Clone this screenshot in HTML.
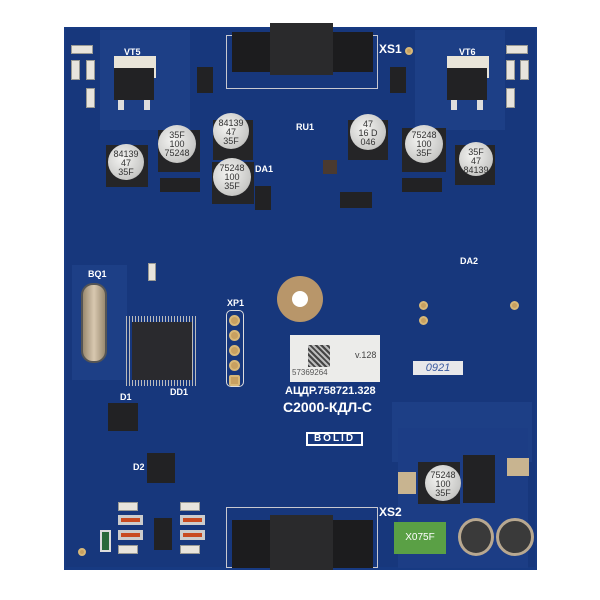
<!DOCTYPE html>
<html><head><meta charset="utf-8"><style>
body{margin:0;width:600px;height:600px;background:#fff;position:relative;overflow:hidden;font-family:"Liberation Sans",sans-serif}
div{position:absolute;box-sizing:border-box}
.b{background:#222224}
.cap{border-radius:50%;background:radial-gradient(circle at 40% 40%,#f4f4f2,#c8c8c6 70%,#8a8a8a);color:#333;font-size:9px;line-height:9px;text-align:center;padding-top:6px}
.capb{background:#252527}
.r{background:#e8e4dc;border:1px solid #9a9a94}
.t{color:#fff;font-weight:bold;font-size:9px}
.pad{border-radius:50%;background:#c8a060;border:2px solid #d8b878}
.mesh{background:#1d3f86}
</style></head><body>
<!-- board -->
<div style="left:64px;top:27px;width:473px;height:543px;background:#173a82"></div>
<div style="left:66px;top:29px;width:469px;height:538px;background:#17377c"></div>
<!-- mesh areas -->
<div class="mesh" style="left:100px;top:30px;width:90px;height:100px"></div>
<div class="mesh" style="left:415px;top:30px;width:90px;height:100px"></div>
<div class="mesh" style="left:72px;top:265px;width:55px;height:115px"></div>
<div class="mesh" style="left:392px;top:402px;width:140px;height:60px"></div>
<div style="left:398px;top:428px;width:130px;height:140px;background:#1c3d85"></div>
<!-- XS1 -->
<div style="left:226px;top:35px;width:152px;height:54px;border:1px solid #c8c8d0"></div>
<div class="b" style="left:232px;top:32px;width:141px;height:40px;background:#1c1c1e"></div>
<div class="b" style="left:270px;top:23px;width:63px;height:52px;background:#2a2a2c"></div>
<div class="t" style="left:379px;top:42px;font-size:12px">XS1</div>
<div class="pad" style="left:405px;top:47px;width:8px;height:8px"></div>
<!-- VT5/VT6 -->
<div class="t" style="left:124px;top:47px">VT5</div>
<div style="left:114px;top:56px;width:42px;height:22px;background:#e8e4d8"></div>
<div class="b" style="left:114px;top:68px;width:40px;height:32px"></div>
<div style="left:118px;top:100px;width:6px;height:10px;background:#ddd"></div>
<div style="left:144px;top:100px;width:6px;height:10px;background:#ddd"></div>
<div class="t" style="left:459px;top:47px">VT6</div>
<div style="left:447px;top:56px;width:42px;height:22px;background:#e8e4d8"></div>
<div class="b" style="left:447px;top:68px;width:40px;height:32px"></div>
<div style="left:451px;top:100px;width:6px;height:10px;background:#ddd"></div>
<div style="left:477px;top:100px;width:6px;height:10px;background:#ddd"></div>
<!-- small resistors top -->
<div class="r" style="left:71px;top:45px;width:22px;height:9px"></div>
<div class="r" style="left:71px;top:60px;width:9px;height:20px"></div>
<div class="r" style="left:86px;top:60px;width:9px;height:20px"></div>
<div class="r" style="left:86px;top:88px;width:9px;height:20px"></div>
<div class="r" style="left:506px;top:45px;width:22px;height:9px"></div>
<div class="r" style="left:506px;top:60px;width:9px;height:20px"></div>
<div class="r" style="left:520px;top:60px;width:9px;height:20px"></div>
<div class="r" style="left:506px;top:88px;width:9px;height:20px"></div>
<div class="b" style="left:197px;top:67px;width:16px;height:26px"></div>
<div class="b" style="left:390px;top:67px;width:16px;height:26px"></div>
<div class="t" style="left:296px;top:122px">RU1</div>
<!-- caps -->
<div class="capb" style="left:106px;top:145px;width:42px;height:42px"></div>
<div class="cap" style="left:108px;top:144px;width:36px;height:36px">84139<br>47<br>35F</div>
<div class="capb" style="left:158px;top:130px;width:42px;height:42px"></div>
<div class="cap" style="left:158px;top:125px;width:38px;height:38px">35F<br>100<br>75248</div>
<div class="capb" style="left:213px;top:120px;width:40px;height:40px"></div>
<div class="cap" style="left:213px;top:113px;width:36px;height:36px">84139<br>47<br>35F</div>
<div class="capb" style="left:212px;top:162px;width:42px;height:42px"></div>
<div class="cap" style="left:213px;top:158px;width:38px;height:38px">75248<br>100<br>35F</div>
<div class="capb" style="left:348px;top:120px;width:40px;height:40px"></div>
<div class="cap" style="left:350px;top:114px;width:36px;height:36px">47<br>16 D<br>046</div>
<div class="capb" style="left:402px;top:128px;width:44px;height:44px"></div>
<div class="cap" style="left:405px;top:125px;width:38px;height:38px">75248<br>100<br>35F</div>
<div class="capb" style="left:455px;top:145px;width:40px;height:40px"></div>
<div class="cap" style="left:459px;top:142px;width:34px;height:34px">35F<br>47<br>84139</div>
<div class="b" style="left:160px;top:178px;width:40px;height:14px"></div>
<div class="b" style="left:402px;top:178px;width:40px;height:14px"></div>
<div class="b" style="left:255px;top:186px;width:16px;height:24px"></div>
<div class="t" style="left:255px;top:164px">DA1</div>
<div class="b" style="left:340px;top:192px;width:32px;height:16px"></div>
<div class="b" style="left:323px;top:160px;width:14px;height:14px;background:#4a3a30"></div>
<!-- BQ1 -->
<div class="t" style="left:88px;top:269px">BQ1</div>
<div style="left:81px;top:283px;width:26px;height:80px;border-radius:12px;background:linear-gradient(90deg,#9a8a70,#d8c8b0,#9a8a70);border:2px solid #555"></div>
<div class="r" style="left:148px;top:263px;width:8px;height:18px"></div>
<!-- MCU -->
<div style="left:126px;top:316px;width:72px;height:70px;background:repeating-linear-gradient(90deg,#bbb 0 1px,transparent 1px 3px)"></div>
<div class="b" style="left:132px;top:322px;width:60px;height:58px;background:#2a2a2e"></div>
<div class="t" style="left:170px;top:387px">DD1</div>
<div class="t" style="left:120px;top:392px">D1</div>
<div class="b" style="left:108px;top:403px;width:30px;height:28px"></div>
<div class="t" style="left:133px;top:462px">D2</div>
<div class="b" style="left:147px;top:453px;width:28px;height:30px"></div>
<!-- XP1 -->
<div class="t" style="left:227px;top:298px">XP1</div>
<div style="left:226px;top:310px;width:18px;height:77px;border:1.5px solid #ddd;border-radius:5px"></div>
<div class="pad" style="left:229px;top:315px;width:11px;height:11px"></div>
<div class="pad" style="left:229px;top:330px;width:11px;height:11px"></div>
<div class="pad" style="left:229px;top:345px;width:11px;height:11px"></div>
<div class="pad" style="left:229px;top:360px;width:11px;height:11px"></div>
<div class="pad" style="left:229px;top:375px;width:11px;height:11px;border-radius:2px"></div>
<!-- hole -->
<div style="left:277px;top:276px;width:46px;height:46px;border-radius:50%;background:#b8966a"></div>
<div style="left:292px;top:291px;width:16px;height:16px;border-radius:50%;background:#fff"></div>
<!-- label -->
<div style="left:290px;top:335px;width:90px;height:47px;background:#ececea"></div>
<div style="left:308px;top:345px;width:22px;height:22px;background:repeating-linear-gradient(45deg,#444 0 2px,#bbb 2px 4px)"></div>
<div style="left:292px;top:368px;font-size:8px;color:#555">57369264</div>
<div style="left:355px;top:350px;font-size:9px;color:#444">v.128</div>
<div class="t" style="left:285px;top:385px;font-size:11px">АЦДР.758721.328</div>
<div class="t" style="left:283px;top:399px;font-size:14px">С2000-КДЛ-С</div>
<div style="left:306px;top:432px;width:57px;height:14px;border:2px solid #fff;color:#fff;font-size:10px;font-weight:bold;text-align:center;line-height:10px;letter-spacing:2px">BOLID</div>
<div style="left:413px;top:361px;width:50px;height:14px;background:#e8e8ea;color:#3a5aa0;font-size:11px;font-style:italic;line-height:14px;text-align:center">0921</div>
<div class="t" style="left:460px;top:256px">DA2</div>
<div class="pad" style="left:419px;top:301px;width:9px;height:9px"></div>
<div class="pad" style="left:419px;top:316px;width:9px;height:9px"></div>
<div class="pad" style="left:510px;top:301px;width:9px;height:9px"></div>
<!-- bottom right -->
<div class="capb" style="left:418px;top:462px;width:42px;height:42px"></div>
<div class="cap" style="left:425px;top:465px;width:36px;height:36px">75248<br>100<br>35F</div>
<div class="b" style="left:463px;top:455px;width:32px;height:48px"></div>
<div style="left:398px;top:472px;width:18px;height:22px;background:#c8b490"></div>
<div style="left:507px;top:458px;width:22px;height:18px;background:#c8b490"></div>
<div style="left:394px;top:522px;width:52px;height:32px;background:#5aa045;color:#fff;font-size:10px;line-height:32px;text-align:center">X075F</div>
<div style="left:458px;top:518px;width:36px;height:38px;border-radius:50%;background:#3a3a3a;border:3px solid #b8a890"></div>
<div style="left:496px;top:518px;width:38px;height:38px;border-radius:50%;background:#3a3a3a;border:3px solid #b8a890"></div>
<!-- bottom left resistors -->
<div class="r" style="left:118px;top:502px;width:20px;height:9px"></div>
<div style="left:118px;top:515px;width:25px;height:10px;background:#c84a20;border:3px solid #ccc"></div>
<div style="left:118px;top:530px;width:25px;height:10px;background:#c84a20;border:3px solid #ccc"></div>
<div class="r" style="left:118px;top:545px;width:20px;height:9px"></div>
<div style="left:180px;top:515px;width:25px;height:10px;background:#c84a20;border:3px solid #ccc"></div>
<div style="left:180px;top:530px;width:25px;height:10px;background:#c84a20;border:3px solid #ccc"></div>
<div class="r" style="left:180px;top:502px;width:20px;height:9px"></div>
<div class="r" style="left:180px;top:545px;width:20px;height:9px"></div>
<div class="b" style="left:154px;top:518px;width:18px;height:32px"></div>
<div style="left:100px;top:530px;width:11px;height:22px;background:#2a6a3a;border:2px solid #ddd"></div>
<div class="pad" style="left:78px;top:548px;width:8px;height:8px"></div>
<!-- XS2 -->
<div style="left:226px;top:507px;width:152px;height:61px;border:1px solid #c8c8d0"></div>
<div class="t" style="left:379px;top:505px;font-size:12px">XS2</div>
<div class="b" style="left:232px;top:520px;width:141px;height:48px;background:#1c1c1e"></div>
<div class="b" style="left:270px;top:515px;width:63px;height:55px;background:#2a2a2c"></div>
</body></html>
